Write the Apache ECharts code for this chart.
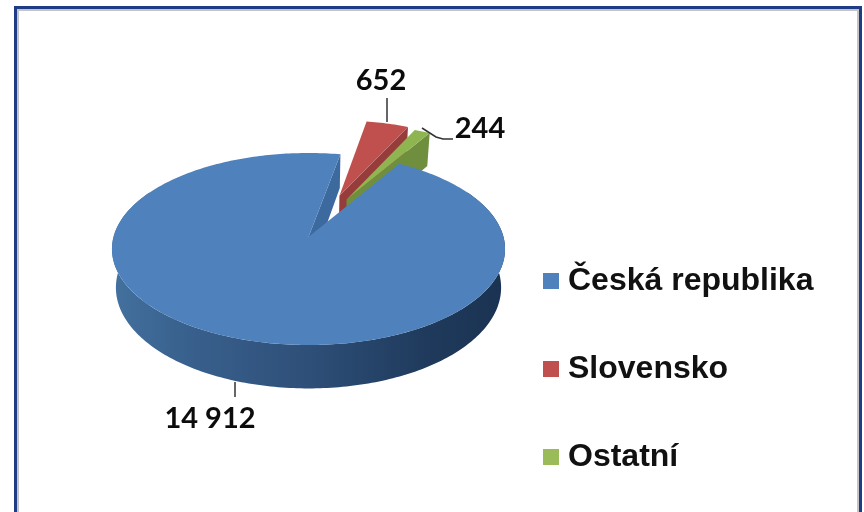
<!DOCTYPE html>
<html><head><meta charset="utf-8">
<style>html,body{margin:0;padding:0;background:#fff}#c{width:864px;height:512px}</style>
<script src="https://cdn.jsdelivr.net/npm/echarts@6/dist/echarts.min.js"></script>
</head><body><div id="c"></div>
<script>
const categories = ['Česká republika', 'Slovensko', 'Ostatní'];
const values = [14912, 652, 244];

const topColors = ['#4f81bd', '#c0504d', '#8fb550'];
const legendColors = ['#4f81bd', '#c0504d', '#9bbb59'];
const faceColors = ['#3d6a9e', '#963d3b', '#6f8f3f'];
const explode = [0, 0.49, 0.465];
const explodeShift = [0, 2, -2];
const labelPos = [[210, 419], [381, 81], [480, 129]];
const leaders = [
  [[235, 382], [235, 397]],
  [[387, 98], [387, 122]],
  [[422, 128], [436, 137], [443, 139], [453, 139]]
];

// perspective disc
const X0 = 308.5, Y0 = 237, R = 195, K = 94.5, P = 0.125, D = 38, START = 31;
const total = values.reduce((a, b) => a + b, 0);
function proj(u, v, low) {
  const s = 1 / (1 - P * v);
  return [X0 + R * u * s * (low ? 0.98 : 1), Y0 + K * v * s + (low ? D * s : 0)];
}
function rim(deg, ox, oy, low) {
  const t = deg * Math.PI / 180;
  return proj(ox + Math.sin(t), oy - Math.cos(t), low);
}
function arc(a, b, ox, oy, low) {
  const pts = [];
  const n = Math.max(2, Math.ceil(Math.abs(b - a)));
  for (let i = 0; i <= n; i++) pts.push(rim(a + (b - a) * i / n, ox, oy, low));
  return pts;
}
function sliceRange(i) {
  let a = START;
  for (let j = 0; j < i; j++) a += values[j] / total * 360;
  return [a, a + values[i] / total * 360];
}
function fmt(v) { return String(v).replace(/\B(?=(\d{3})+$)/g, ' '); }

function makeRender(i) {
  return function (params, api) {
    const val = api.value(0);
    const [a, b] = sliceRange(i);
    const mid = ((a + b) / 2 + explodeShift[i]) * Math.PI / 180;
    const ox = explode[i] * Math.sin(mid), oy = -explode[i] * Math.cos(mid);
    const apex = proj(ox, oy, false), apexLow = proj(ox, oy, true);
    const kids = [];
    if (i === 0) {
      // front wall
      const wall = arc(60, 300, ox, oy, false).concat(arc(300, 60, ox, oy, true));
      kids.push({
        type: 'polygon', shape: { points: wall },
        style: { fill: new echarts.graphic.LinearGradient(112, 0, 505, 0, [
          { offset: 0, color: '#44719f' }, { offset: 0.15, color: '#3a6390' },
          { offset: 0.5, color: '#2e4f78' }, { offset: 0.8, color: '#1f3a5c' },
          { offset: 1, color: '#1b3352' }], true) }
      });
    }
    // cut face at the end of the slice
    kids.push({
      type: 'polygon',
      shape: { points: [apex, rim(b, ox, oy, false), rim(b, ox, oy, true), apexLow] },
      style: { fill: faceColors[i] }
    });
    kids.push({
      type: 'polygon',
      shape: { points: [apex].concat(arc(a, b, ox, oy, false)) },
      style: { fill: topColors[i] }
    });
    kids.push({
      type: 'polyline', shape: { points: leaders[i] },
      style: { stroke: '#333', lineWidth: 1.5, fill: null }
    });
    kids.push({
      type: 'text',
      style: {
        text: fmt(val), x: labelPos[i][0], y: labelPos[i][1],
        align: 'center', verticalAlign: 'middle',
        fill: '#0c0c0c', font: 'bold 29px Lato, sans-serif'
      }
    });
    return { type: 'group', children: kids };
  };
}

const chart = echarts.init(document.getElementById('c'), null, { renderer: 'canvas' });
chart.setOption({
  animation: false,
  backgroundColor: '#fff',
  graphic: [
    { type: 'rect', shape: { x: 15.5, y: 7.5, width: 845, height: 600 }, style: { fill: null, stroke: '#1f3d86', lineWidth: 3 } },
    { type: 'rect', shape: { x: 18, y: 10, width: 840, height: 600 }, style: { fill: null, stroke: '#c4c4c4', lineWidth: 2 } }
  ],
  legend: {
    orient: 'vertical', left: 538, top: 260,
    itemWidth: 16, itemHeight: 16, itemGap: 56,
    icon: 'rect', selectedMode: false,
    textStyle: { fontFamily: 'Liberation Sans', fontWeight: 'bold', fontSize: 32, color: '#111', lineHeight: 32, padding: [0, 0, 0, 4] },
    data: categories.map((n, i) => ({ name: n, itemStyle: { color: legendColors[i] } }))
  },
  series: categories.map((name, i) => ({
    type: 'custom', name, coordinateSystem: 'none',
    z: i === 0 ? 4 : (i === 1 ? 2 : 3),
    itemStyle: { color: legendColors[i] },
    silent: true,
    data: [[values[i]]],
    renderItem: makeRender(i)
  }))
});
</script></body></html>
